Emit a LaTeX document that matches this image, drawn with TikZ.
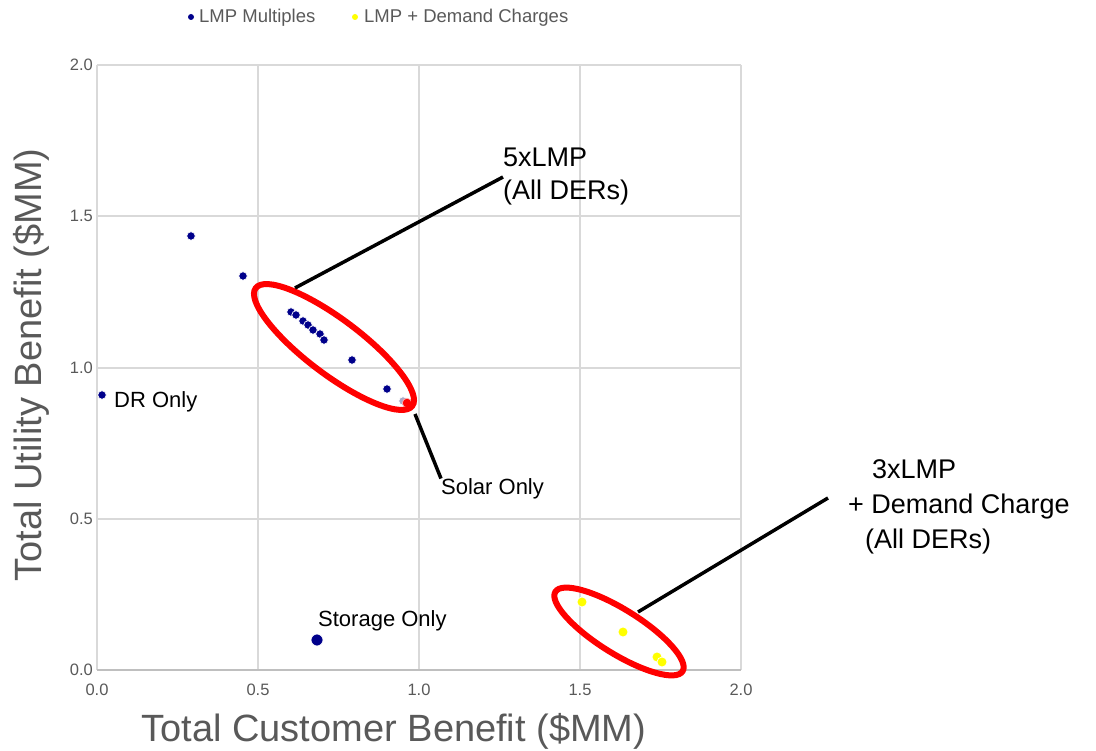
\documentclass[tikz,border=0pt]{standalone}
\usepackage{fontspec}
\setmainfont{Liberation Sans}
\usetikzlibrary{shapes.geometric}
\definecolor{navy}{HTML}{00008B}
\definecolor{ylw}{HTML}{FFFF00}
\definecolor{gridgray}{HTML}{D9D9D9}
\definecolor{axisgray}{HTML}{BFBFBF}
\definecolor{txtgray}{HTML}{595959}
\definecolor{fadedot}{HTML}{A8A8C8}
\begin{document}
\begin{tikzpicture}[x=1pt,y=-1pt,
  gridline/.style={draw=gridgray,line width=1.3pt},
  axisline/.style={draw=axisgray,line width=1.5pt},
  ticklbl/.style={text=txtgray,inner sep=0pt,font=\fontsize{16.5}{18}\selectfont},
  axtitle/.style={text=txtgray,inner sep=0pt,font=\fontsize{38}{44}\selectfont},
  legtxt/.style={text=txtgray,inner sep=0pt,anchor=west,font=\fontsize{18.5}{21}\selectfont},
  ptlbl/.style={text=black,inner sep=0pt,anchor=west,font=\fontsize{22}{26}\selectfont},
  calllbl/.style={text=black,inner sep=0pt,anchor=west,align=left},
  dot/.style={circle,inner sep=0pt,minimum size=8.5pt,draw=white,line width=0.7pt},
  bdot/.style={dot,fill=navy},
  ydot/.style={dot,fill=ylw,minimum size=10pt},
  legdot/.style={circle,inner sep=0pt,minimum size=6pt},
  ring/.style={draw=red,line width=6pt,ellipse,inner sep=0pt},
  conn/.style={draw=black,line width=3.5pt}]
\useasboundingbox (0,0) rectangle (1096,751);

% grid
\foreach \gx in {258,419,580,741} \draw[gridline] (\gx,65) -- (\gx,670);
\foreach \gy in {65,216,368,519} \draw[gridline] (97,\gy) -- (741,\gy);
\draw[gridline] (97,65) -- (97,670);
\draw[axisline] (97,670) -- (741,670);

% tick labels
\node[ticklbl,anchor=east] (y0) at (93,670) {0.0};
\node[ticklbl,anchor=east] (y1) at (93,519) {0.5};
\node[ticklbl,anchor=east] (y2) at (93,368) {1.0};
\node[ticklbl,anchor=east] (y3) at (93,216) {1.5};
\node[ticklbl,anchor=east] (y4) at (93,65) {2.0};
\node[ticklbl] (x0) at (97,690) {0.0};
\node[ticklbl] (x1) at (258,690) {0.5};
\node[ticklbl] (x2) at (419,690) {1.0};
\node[ticklbl] (x3) at (580,690) {1.5};
\node[ticklbl] (x4) at (741,690) {2.0};

% axis titles
\node[axtitle] (xt) at (394,731) {Total Customer Benefit (\$MM)};
\node[axtitle,rotate=90] (yt) at (31,365) {Total Utility Benefit (\$MM)};

% legend
\node[legdot,fill=navy] (lg1) at (191,17) {};
\node[legtxt] (lt1) at (199,18) {LMP Multiples};
\node[legdot,fill=ylw] (lg2) at (355,17) {};
\node[legtxt] (lt2) at (364,18) {LMP + Demand Charges};

% blue points
\node[bdot] (b1) at (191,236) {};
\node[bdot] (b2) at (243,276) {};
\node[bdot] (dr) at (102,395) {};
\node[bdot] (b4) at (291,312) {};
\node[bdot] (b5) at (296,315) {};
\node[bdot] (b6) at (303,321) {};
\node[bdot] (b7) at (308,325) {};
\node[bdot] (b8) at (313,330) {};
\node[bdot] (b9) at (320,334) {};
\node[bdot] (b10) at (324,340) {};
\node[bdot] (b11) at (352,360) {};
\node[bdot] (b12) at (387,389) {};
\node[dot,fill=fadedot] (b13) at (403,401) {};
\node[dot,fill=red,draw=red!30,minimum size=9.5pt] (solar) at (407,403) {};
\node[bdot,minimum size=12pt] (stor) at (317,640) {};

% yellow points
\node[ydot] (y1p) at (582,602) {};
\node[ydot] (y2p) at (623,632) {};
\node[ydot] (y3p) at (657,657) {};
\node[ydot] (y4p) at (662,662) {};

% point labels
\node[ptlbl] (drl) at (114,402) {DR Only};
\node[ptlbl] (storl) at (318,621) {Storage Only};
\node[ptlbl] (solarl) at (441,489) {Solar Only};

% rings
\node[ring,minimum width=196pt,minimum height=55pt,rotate=-37] (e1) at (334,347) {};
\node[ring,minimum width=150pt,minimum height=44pt,rotate=-32] (e2) at (619,631.5) {};

% callout texts
\node[calllbl,font=\fontsize{27}{33}\selectfont] (t5) at (503,177) {5xLMP\\(All DERs)};
\node[calllbl,font=\fontsize{27}{35}\selectfont] (t3) at (848,507)
  {\hspace*{24pt}3xLMP\\+ Demand Charge\\\hspace*{17pt}(All DERs)};

% connectors
\coordinate (c5) at (295,288);
\coordinate (cs) at (415,414);
\coordinate (c3) at (638,612);
\draw[conn] (c5) -- (t5.west);
\draw[conn] (cs) -- (solarl.north west);
\draw[conn] (c3) -- ([xshift=-20pt,yshift=9pt]t3.west);
\end{tikzpicture}
\end{document}
